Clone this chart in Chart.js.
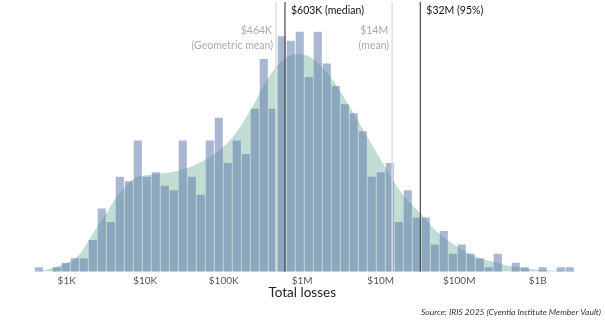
<!DOCTYPE html>
<html lang="en">
<head>
  <meta charset="UTF-8">
  <title>Total losses histogram</title>
  <script src="https://cdn.jsdelivr.net/npm/chart.js"></script>
  <style>
    body {
      margin: 0;
      padding: 0;
      background: #fff;
    }
    canvas {
      display: block;
    }
  </style>
</head>
<body>
  <canvas id="chart" width="605" height="323"></canvas>

  <script>
    // histogram bins on log10(loss); 60 equal bins
    const binStart = 2.587;
    const binWidth = 0.11465;
    const counts = [1, 0, 1, 2, 3, 3, 7, 14, 11, 21, 20, 29, 21, 22, 19, 18, 29, 21, 17, 29,
                    34, 24, 29, 26, 36, 47, 36, 52, 51, 53, 43, 53, 46, 41, 37, 35, 31, 21, 22, 24,
                    11, 18, 12, 12, 6, 9, 4, 6, 4, 3, 1, 4, 0, 2, 1, 0, 1, 0, 1, 1];

    // density curve (x = log10 loss, y in count units)
    const curveX = [2.587, 2.66, 2.809, 2.927, 3.042, 3.161, 3.275, 3.39, 3.501, 3.615, 3.734, 3.848,
                    3.963, 4.189, 4.422, 4.656, 4.876, 5.106, 5.344, 5.568, 5.794, 5.972, 6.141,
                    6.367, 6.596, 6.829, 7.055, 7.288, 7.513, 7.746, 7.976, 8.201, 8.434, 8.66,
                    8.889, 9.118, 9.357, 9.466];
    const curveY = [0, 0.2, 0.8, 1.5, 2.2, 3.8, 6.8, 10, 12.8, 16, 18.6, 20.5,
                    21.2, 21.7, 22.3, 23.8, 26, 29.6, 35.8, 42.8, 47.3, 48, 46.9,
                    42.8, 36.7, 29.8, 23.2, 16.9, 12.8, 8.4, 5.6, 3.4, 2.2, 1.2,
                    0.7, 0.35, 0.2, 0.15];

    const tickValues = [3, 4, 5, 6, 7, 8, 9];
    const tickLabels = ['$1K', '$10K', '$100K', '$1M', '$10M', '$100M', '$1B'];

    const markerValues = [464000, 603000, 14000000, 32000000];
    const markerTitles = ['$464K', '$603K (median)', '$14M', '$32M (95%)'];
    const markerSubtitles = ['(Geometric mean)', '', '(mean)', ''];
    const markerStrong = [false, true, false, true];

    const binCenters = counts.map((c, i) => binStart + (i + 0.5) * binWidth);

    const markerPlugin = {
      id: 'markers',
      afterDatasetsDraw(chart) {
        const ctx = chart.ctx;
        const x = chart.scales.x;
        const bottom = chart.chartArea.bottom;
        ctx.save();
        markerValues.forEach((v, i) => {
          const px = x.getPixelForValue(Math.log10(v));
          ctx.beginPath();
          ctx.moveTo(px, 2);
          ctx.lineTo(px, bottom);
          ctx.lineWidth = markerStrong[i] ? 1.3 : 1.5;
          ctx.strokeStyle = markerStrong[i] ? '#555' : '#dedede';
          ctx.stroke();

          ctx.font = '10.5px Lato';
          ctx.textBaseline = 'middle';
          if (markerStrong[i]) {
            ctx.fillStyle = '#111';
            ctx.textAlign = 'left';
            ctx.fillText(markerTitles[i], px + 6, 11);
          } else {
            ctx.fillStyle = '#aaa';
            ctx.textAlign = 'right';
            ctx.fillText(markerTitles[i], px - 4, 31);
            ctx.fillText(markerSubtitles[i], px - 3, 46);
          }
        });
        ctx.restore();
      },
      afterDraw(chart) {
        const ctx = chart.ctx;
        ctx.save();
        ctx.font = 'italic 8.5px Lato';
        ctx.fillStyle = '#333';
        ctx.textAlign = 'right';
        ctx.textBaseline = 'middle';
        ctx.fillText('Source: IRIS 2025 (Cyentia Institute Member Vault)', 601, 312);
        ctx.restore();
      }
    };

    new Chart(document.getElementById('chart'), {
      data: {
        datasets: [
          {
            type: 'bar',
            data: binCenters.map((x, i) => ({ x: x, y: counts[i] })),
            backgroundColor: 'rgba(99,124,173,0.55)',
            borderWidth: 0,
            barPercentage: 0.9,
            categoryPercentage: 1,
            grouped: false,
            order: 1
          },
          {
            type: 'line',
            data: curveX.map((x, i) => ({ x: x, y: curveY[i] })),
            fill: 'origin',
            backgroundColor: 'rgba(120,180,160,0.45)',
            borderWidth: 0,
            pointRadius: 0,
            tension: 0.4,
            order: 2
          }
        ]
      },
      options: {
        responsive: false,
        animation: false,
        layout: { padding: { left: 27.45, right: 28.05, top: 0, bottom: 22 } },
        plugins: {
          legend: { display: false },
          tooltip: { enabled: false }
        },
        scales: {
          x: {
            type: 'linear',
            min: 2.5,
            max: 9.5,
            offset: false,
            grid: { display: false, drawTicks: false },
            border: { display: false },
            afterBuildTicks: s => { s.ticks = tickValues.map(v => ({ value: v })); },
            ticks: {
              padding: 3,
              color: '#555',
              font: { family: 'Lato', size: 10 },
              callback: v => tickLabels[tickValues.indexOf(v)]
            },
            title: {
              display: true,
              text: 'Total losses',
              color: '#222',
              font: { family: 'Lato', size: 13.5 },
              padding: { top: -5, bottom: 0 }
            }
          },
          y: { display: false, min: 0, max: 60 }
        }
      },
      plugins: [markerPlugin]
    });
  </script>
</body>
</html>
